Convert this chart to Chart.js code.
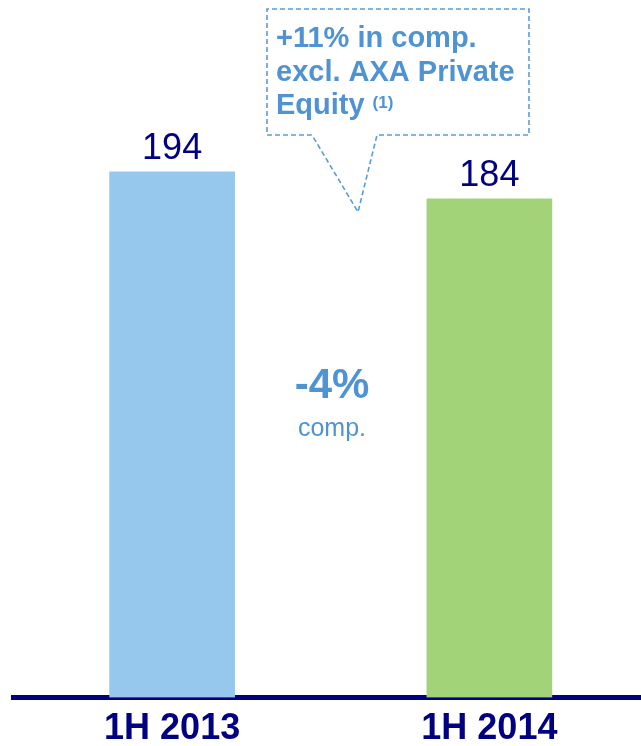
<!DOCTYPE html>
<html>
<head>
<meta charset="utf-8">
<script src="https://cdn.jsdelivr.net/npm/chart.js@4"></script>
<style>
    body { margin: 0; background: #fff; }
    #wrap { width: 641px; height: 746px; overflow: hidden; }
</style>
</head>
<body>
<div id="wrap"><canvas id="chart" width="648" height="746"></canvas></div>
<script>
/* ------------------------------- Data -------------------------------*/

const periods = ['1H 2013', '1H 2014'];
const revenues = [194, 184];
const changeLabel = '-4%';
const changeNote = 'comp.';
const calloutLines = ['+11% in comp.', 'excl. AXA Private', 'Equity'];
const calloutNote = '(1)';

const NAVY = '#000080';
const BLUE_TEXT = '#4f93d3';

/* ------------------------------- Plugins -------------------------------*/

const valueLabels = {                                   // числа над стовпцями
    id: 'valueLabels',
    afterDatasetsDraw(chart) {
        const ctx = chart.ctx;
        const meta = chart.getDatasetMeta(0);
        ctx.save();
        ctx.font = '36px "Liberation Sans", Arial, sans-serif';
        ctx.fillStyle = NAVY;
        ctx.textAlign = 'center';
        ctx.textBaseline = 'alphabetic';
        meta.data.forEach((bar, i) => {
            ctx.fillText(revenues[i], bar.x, bar.y - 13);
        });
        ctx.restore();
    }
};

const annotations = {                                   // зміна та виноска
    id: 'annotations',
    afterDraw(chart) {
        const ctx = chart.ctx;
        ctx.save();

        // -4% comp.
        ctx.textAlign = 'center';
        ctx.fillStyle = BLUE_TEXT;
        ctx.font = 'bold 42px "Liberation Sans", Arial, sans-serif';
        ctx.fillText(changeLabel, 332, 398);
        ctx.font = '25px "Liberation Sans", Arial, sans-serif';
        ctx.fillText(changeNote, 332, 436);

        // dashed callout
        ctx.strokeStyle = '#5b9bd5';
        ctx.lineWidth = 1.6;
        ctx.setLineDash([5, 3]);
        ctx.beginPath();
        ctx.moveTo(312, 135);
        ctx.lineTo(267, 135);
        ctx.lineTo(267, 9);
        ctx.lineTo(529, 9);
        ctx.lineTo(529, 135);
        ctx.lineTo(377, 135);
        ctx.lineTo(358, 212);
        ctx.lineTo(312, 135);
        ctx.stroke();
        ctx.setLineDash([]);

        ctx.textAlign = 'left';
        ctx.font = 'bold 29px "Liberation Sans", Arial, sans-serif';
        var baselines = [47, 81, 114];
        calloutLines.forEach((line, i) => ctx.fillText(line, 276, baselines[i]));
        var w = ctx.measureText(calloutLines[2]).width;
        ctx.font = 'bold 17px "Liberation Sans", Arial, sans-serif';
        ctx.fillText(calloutNote, 276 + w + 8, 108);

        ctx.restore();
    }
};

/* ------------------------------- Chart -------------------------------*/

new Chart(document.getElementById('chart'), {
    type: 'bar',
    data: {
        labels: periods,
        datasets: [{
            data: revenues,
            backgroundColor: ['#95c8ec', '#a2d379'],
            barThickness: 125,
            borderWidth: 0
        }]
    },
    options: {
        responsive: false,
        animation: false,
        devicePixelRatio: 1,
        layout: { padding: { top: 20, left: 13.5, right: 0, bottom: 0 } },
        plugins: {
            legend: { display: false },
            tooltip: { enabled: false }
        },
        scales: {
            x: {
                z: 1,
                grid: { display: true, color: 'transparent', drawTicks: false },
                border: { display: true, color: NAVY, width: 5 },
                ticks: {
                    color: NAVY,
                    padding: 10,
                    font: { family: '"Liberation Sans", Arial, sans-serif', size: 36, weight: 'bold' }
                },
                afterFit(scale) { scale.height = 48.5; }
            },
            y: {
                display: false,
                min: 0,
                max: 250
            }
        }
    },
    plugins: [valueLabels, annotations]
});
</script>
</body>
</html>
